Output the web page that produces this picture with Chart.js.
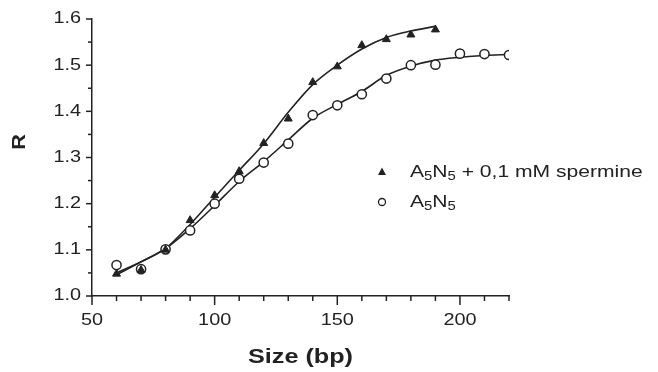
<!DOCTYPE html>
<html>
<head>
<meta charset="utf-8">
<script src="https://cdn.jsdelivr.net/npm/chart.js@4/dist/chart.umd.min.js"></script>
<style>
  html, body { margin: 0; padding: 0; background: #fff; }
  #wrap { width: 658px; height: 372px; position: relative; }
</style>
</head>
<body>
<div id="wrap"><canvas id="mainChart"></canvas></div>
<script>
// measured sizes (bp)
const sizesSpermine = [60, 70, 80, 90, 100, 110, 120, 130, 140, 150, 160, 170, 180, 190];
const rSpermine = [1.048, 1.056, 1.100, 1.164, 1.218, 1.270, 1.331, 1.384, 1.463, 1.497, 1.543, 1.556, 1.566, 1.577];

const sizesPlain = [60, 70, 80, 90, 100, 110, 120, 130, 140, 150, 160, 170, 180, 190, 200, 210, 220];
const rPlain = [1.067, 1.058, 1.101, 1.142, 1.200, 1.254, 1.289, 1.330, 1.392, 1.413, 1.437, 1.471, 1.500, 1.501, 1.525, 1.524, 1.522];

// fitted curves
const fitSpermineX = [60, 70, 80, 90, 100, 110, 120, 130, 140, 150, 160, 170, 180, 190];
const fitSpermineY = [1.046, 1.074, 1.103, 1.155, 1.214, 1.272, 1.330, 1.398, 1.458, 1.500, 1.535, 1.560, 1.574, 1.584];
const fitPlainX = [60, 70, 80, 90, 100, 110, 120, 130, 140, 150, 160, 170, 180, 190, 200, 210, 220];
const fitPlainY = [1.050, 1.074, 1.103, 1.146, 1.196, 1.248, 1.291, 1.338, 1.385, 1.415, 1.443, 1.478, 1.498, 1.511, 1.517, 1.521, 1.523];

// axis ticks
const xLabelTicks = [50, 100, 150, 200];
const yLabelTicks = [1.0, 1.1, 1.2, 1.3, 1.4, 1.5, 1.6];

const INK = '#222';
const FONT = '"Liberation Sans", Arial, Helvetica, sans-serif';
const STRETCH = 1.24; // 원본 그림의 글자가 가로로 늘어나 있음

const toPts = (xs, ys) => xs.map((x, i) => ({ x: x, y: ys[i] }));

// 가로로 늘린 텍스트 그리기
function stretchText(ctx, text, x, y, align, sx) {
  ctx.save();
  ctx.translate(x, y);
  ctx.scale(sx, 1);
  ctx.textAlign = align;
  ctx.fillText(text, 0, 0);
  ctx.restore();
}

// 축 눈금, 눈금 라벨, 축 제목, 범례 그리기
const decorPlugin = {
  id: 'decor',
  afterDraw(chart) {
    const ctx = chart.ctx;
    const xs = chart.scales.x;
    const ys = chart.scales.y;
    const area = chart.chartArea;
    ctx.save();
    ctx.strokeStyle = INK;
    ctx.fillStyle = INK;
    ctx.lineWidth = 1.5;
    ctx.textBaseline = 'middle';
    ctx.font = '16px ' + FONT;

    // x ticks + labels
    xs.ticks.forEach(t => {
      const px = xs.getPixelForValue(t.value);
      const major = xLabelTicks.includes(t.value);
      ctx.beginPath();
      ctx.moveTo(px, area.bottom);
      ctx.lineTo(px, area.bottom + (major ? 9 : 5));
      ctx.stroke();
      if (major) stretchText(ctx, String(t.value), px, 321, 'center', STRETCH);
    });
    // y ticks + labels
    ys.ticks.forEach(t => {
      const py = ys.getPixelForValue(t.value);
      const hit = yLabelTicks.find(v => Math.abs(v - t.value) < 1e-6);
      const major = hit !== undefined;
      ctx.beginPath();
      ctx.moveTo(area.left, py);
      ctx.lineTo(area.left - (major ? 6 : 4), py);
      ctx.stroke();
      if (major) stretchText(ctx, hit.toFixed(1), 81, py, 'right', STRETCH);
    });

    // axis titles
    ctx.font = 'bold 21px ' + FONT;
    stretchText(ctx, 'Size (bp)', (area.left + area.right) / 2, 357, 'center', 1.2);

    ctx.save();
    ctx.translate(20, 142);
    ctx.rotate(-Math.PI / 2);
    ctx.scale(1.2, 1);
    ctx.font = 'bold 18px ' + FONT;
    ctx.textAlign = 'center';
    ctx.fillText('R', 0, 0);
    ctx.restore();

    // legend
    const rows = [
      { y: 172, marker: 'triangle', tail: ' + 0,1 mM spermine' },
      { y: 202, marker: 'circle', tail: '' }
    ];
    rows.forEach(row => {
      const mx = 382;
      if (row.marker === 'triangle') {
        ctx.beginPath();
        ctx.moveTo(mx, row.y - 4.5);
        ctx.lineTo(mx + 4, row.y + 3);
        ctx.lineTo(mx - 4, row.y + 3);
        ctx.closePath();
        ctx.fillStyle = INK;
        ctx.fill();
      } else {
        ctx.beginPath();
        ctx.arc(mx, row.y, 3.5, 0, Math.PI * 2);
        ctx.fillStyle = '#fff';
        ctx.fill();
        ctx.lineWidth = 1.3;
        ctx.stroke();
      }
      ctx.fillStyle = INK;
      let x = 410;
      const parts = [['A', false], ['5', true], ['N', false], ['5', true], [row.tail, false]];
      parts.forEach(p => {
        if (!p[0]) return;
        ctx.font = (p[1] ? '12px ' : '17px ') + FONT;
        stretchText(ctx, p[0], x, row.y + (p[1] ? 5 : 0), 'left', STRETCH);
        x += ctx.measureText(p[0]).width * STRETCH;
      });
    });
    ctx.restore();
  }
};

const chartData = {
  datasets: [
    {
      label: 'A5N5 + 0,1 mM spermine',
      data: toPts(sizesSpermine, rSpermine),
      pointStyle: 'triangle',
      pointRadius: 4.6,
      pointBackgroundColor: INK,
      pointBorderColor: INK,
      pointBorderWidth: 1,
      showLine: false
    },
    {
      label: 'A5N5',
      data: toPts(sizesPlain, rPlain),
      pointStyle: 'circle',
      pointRadius: 4.6,
      pointBackgroundColor: '#fff',
      pointBorderColor: INK,
      pointBorderWidth: 1.5,
      showLine: false
    },
    {
      label: 'fit spermine',
      data: toPts(fitSpermineX, fitSpermineY),
      showLine: true,
      borderColor: INK,
      borderWidth: 1.6,
      pointRadius: 0,
      cubicInterpolationMode: 'monotone'
    },
    {
      label: 'fit plain',
      data: toPts(fitPlainX, fitPlainY),
      showLine: true,
      borderColor: INK,
      borderWidth: 1.6,
      pointRadius: 0,
      cubicInterpolationMode: 'monotone'
    }
  ]
};

const options = {
  responsive: true,
  maintainAspectRatio: false,
  animation: false,
  events: [],
  layout: { padding: { top: 19, right: 149, left: 0, bottom: 0 } },
  plugins: {
    legend: { display: false },
    tooltip: { enabled: false }
  },
  scales: {
    x: {
      type: 'linear',
      min: 50,
      max: 220,
      afterFit: s => { s.height = 76; },
      border: { display: true, color: INK, width: 1.5 },
      grid: { display: false, drawTicks: false },
      ticks: { stepSize: 10, autoSkip: false, display: false }
    },
    y: {
      type: 'linear',
      min: 1.0,
      max: 1.6,
      afterFit: s => { s.width = 92; },
      border: { display: true, color: INK, width: 1.5 },
      grid: { display: false, drawTicks: false },
      ticks: { stepSize: 0.05, autoSkip: false, display: false }
    }
  }
};

new Chart(document.getElementById('mainChart').getContext('2d'), {
  type: 'scatter',
  data: chartData,
  options: options,
  plugins: [decorPlugin]
});
</script>
</body>
</html>
